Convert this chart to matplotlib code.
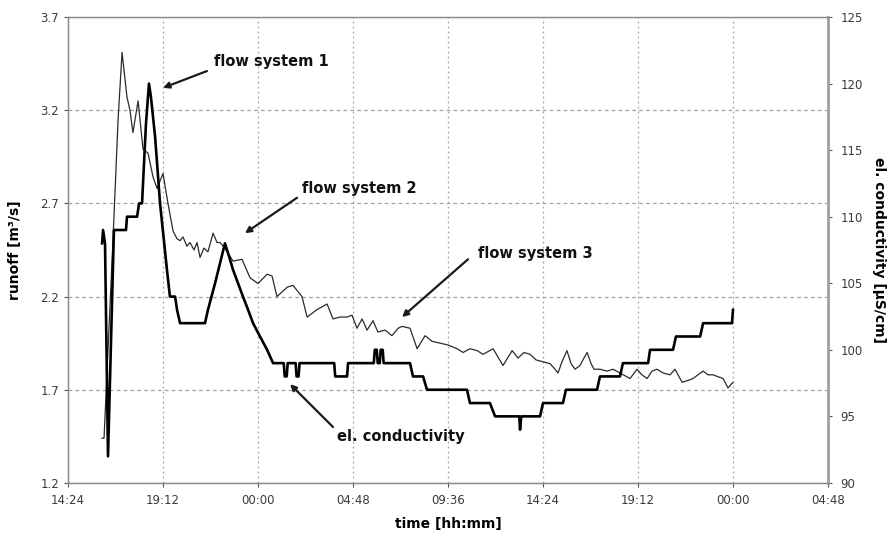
import matplotlib.pyplot as plt

# --- time axis: hours after 14:24 of the first day ---
tick_hours = [0, 4.8, 9.6, 14.4, 19.2, 24.0, 28.8, 33.6, 38.4]
tick_labels = ['14:24', '19:12', '00:00', '04:48', '09:36', '14:24', '19:12', '00:00', '04:48']

# --- runoff [m3/s] (thin line, left axis) ---
runoff_t = [1.72, 1.82, 2.27, 2.53, 2.73, 2.98, 3.13, 3.28, 3.54, 3.79, 4.04, 4.30, 4.50,
            4.80, 5.05, 5.31, 5.51, 5.66, 5.81, 6.01, 6.16, 6.37, 6.52, 6.67, 6.87, 7.07,
            7.33, 7.53, 7.68, 7.93, 8.34, 8.79, 9.20, 9.60, 10.06, 10.31, 10.56, 11.07,
            11.37, 11.82, 12.08, 12.58, 13.09, 13.39, 13.74, 14.10, 14.35, 14.60, 14.86,
            15.11, 15.41, 15.66, 16.02, 16.37, 16.68, 16.88, 17.28, 17.64, 18.04, 18.39,
            18.80, 19.20, 19.66, 19.96, 20.31, 20.67, 20.97, 21.48, 21.98, 22.44, 22.74,
            23.04, 23.35, 23.65, 24.00, 24.36, 24.61, 24.76, 24.96, 25.21, 25.42, 25.62,
            25.87, 26.07, 26.23, 26.43, 26.58, 26.88, 27.24, 27.54, 27.89, 28.40, 28.75,
            29.00, 29.26, 29.51, 29.76, 30.07, 30.42, 30.67, 31.03, 31.33, 31.58, 31.83,
            32.09, 32.34, 32.59, 32.84, 33.10, 33.35, 33.60]
runoff_q = [1.44, 1.44, 2.50, 3.15, 3.51, 3.27, 3.20, 3.08, 3.25, 2.99, 2.97, 2.84, 2.78,
            2.86, 2.70, 2.55, 2.51, 2.50, 2.52, 2.47, 2.49, 2.45, 2.49, 2.41, 2.46, 2.44,
            2.54, 2.49, 2.49, 2.46, 2.39, 2.40, 2.30, 2.27, 2.32, 2.31, 2.20, 2.25,
            2.26, 2.20, 2.09, 2.13, 2.16, 2.08, 2.09, 2.09, 2.10, 2.03, 2.08,
            2.02, 2.07, 2.01, 2.02, 1.99, 2.03, 2.04, 2.03, 1.92, 1.99, 1.96,
            1.95, 1.94, 1.92, 1.90, 1.92, 1.91, 1.89, 1.92, 1.83, 1.91, 1.87,
            1.90, 1.89, 1.86, 1.85, 1.84, 1.81, 1.79, 1.85, 1.91, 1.84, 1.81,
            1.83, 1.87, 1.90, 1.84, 1.81, 1.81, 1.80, 1.81, 1.79, 1.76, 1.81,
            1.78, 1.76, 1.80, 1.81, 1.79, 1.78, 1.81, 1.74, 1.75, 1.76, 1.78,
            1.80, 1.78, 1.78, 1.77, 1.76, 1.71, 1.74]

# --- el. conductivity [uS/cm] (thick line, right axis) ---
cond_t = [1.72, 1.77, 1.87, 2.02, 2.32, 2.93, 2.98, 3.49, 3.59, 3.74, 3.94, 4.09, 4.19, 4.40,
          4.65, 5.00, 5.15, 5.41, 5.51, 5.66, 6.92, 7.07, 7.43, 7.93, 8.14, 8.34, 8.59, 8.84,
          9.10, 9.35, 9.70, 10.06, 10.36,
          10.90, 10.95, 11.05, 11.10, 11.50, 11.55, 11.65, 11.70,
          13.45, 13.50, 14.10, 14.15,
          15.45, 15.50, 15.60, 15.65, 15.75, 15.80, 15.90, 15.95,
          17.28, 17.43, 17.94, 18.14, 20.16, 20.31, 21.32, 21.58, 22.80, 22.84, 22.90,
          23.85, 24.00, 25.01, 25.16, 26.73, 26.88, 27.89, 28.04, 29.31, 29.41, 30.57,
          30.72, 31.94, 32.09, 33.55, 33.60]
cond_ec = [108, 109, 108, 92, 109, 109, 110, 110, 111, 111, 117, 120, 119, 116,
           111, 106, 104, 104, 103, 102, 102, 103, 105, 108, 107, 106, 105, 104,
           103, 102, 101, 100, 99,
           99, 98, 98, 99, 99, 98, 98, 99,
           99, 98, 98, 99,
           99, 100, 100, 99, 99, 100, 100, 99,
           99, 98, 98, 97, 97, 96, 96, 95, 95, 94, 95,
           95, 96, 96, 97, 97, 98, 98, 99, 99, 100, 100,
           101, 101, 102, 102, 103]

# --- annotations: (text, text pos, arrow start, arrow tip) in (hours, runoff) ---
notes = [
    ('flow system 1', (7.38, 3.46), (7.02, 3.41), (4.80, 3.32)),
    ('flow system 2', (11.82, 2.78), (11.57, 2.73), (8.94, 2.54)),
    ('flow system 3', (20.72, 2.43), (20.21, 2.40), (16.88, 2.09)),
    ('el. conductivity', (13.59, 1.45), (13.39, 1.50), (11.22, 1.73)),
]

grid_col = '#a3a3a3'
spine_col = '#8c8c8c'

fig = plt.figure(figsize=(8.88, 5.42), dpi=100)
ax = fig.add_axes([0.0766, 0.109, 0.8558, 0.8596])
ax2 = ax.twinx()

ax.plot(runoff_t, runoff_q, color='#2b2b2b', linewidth=0.9)
ax2.plot(cond_t, cond_ec, color='black', linewidth=1.9)

ax.set_xlim(0, 38.4)
ax.set_ylim(1.2, 3.7)
ax2.set_ylim(90, 125)
ax.set_xticks(tick_hours)
ax.set_xticklabels(tick_labels)
ax.set_yticks([1.2, 1.7, 2.2, 2.7, 3.2, 3.7])
ax2.set_yticks(range(90, 126, 5))

ax.grid(True, axis='x', color=grid_col, linestyle=(0, (1.5, 2.5)), linewidth=0.9)
ax.grid(True, axis='y', color=grid_col, linestyle=(0, (3, 2.5)), linewidth=0.9)
ax.set_axisbelow(True)

for a in (ax, ax2):
    for s in a.spines.values():
        s.set_color(spine_col)
        s.set_linewidth(0.9)
    a.tick_params(colors='#555555', labelsize=8.5, length=3, width=0.8, labelcolor='#3a3a3a')
ax2.spines['right'].set_linewidth(2.0)
ax2.spines['right'].set_color('#a0a0a0')
ax.spines['bottom'].set_color('#666666')
ax.tick_params(axis='x', pad=5)
ax2.tick_params(axis='y', pad=6)

ax.set_xlabel('time [hh:mm]', fontsize=10, fontweight='bold', labelpad=7)
ax.set_ylabel('runoff [m\u00b3/s]', fontsize=10, fontweight='bold', labelpad=13)
ax2.set_ylabel('el. conductivity [\u00b5S/cm]', fontsize=10, fontweight='bold',
               rotation=270, labelpad=17)

for text, tpos, start, tip in notes:
    ax.annotate('', xy=tip, xytext=start,
                arrowprops=dict(arrowstyle='-|>', color='#1a1a1a', lw=1.6,
                                mutation_scale=9, shrinkA=0, shrinkB=0))
    ax.text(tpos[0], tpos[1], text, fontsize=10.5, fontweight='bold',
            ha='left', va='center', color='#111111')

fig.savefig('out.png', dpi=100)
